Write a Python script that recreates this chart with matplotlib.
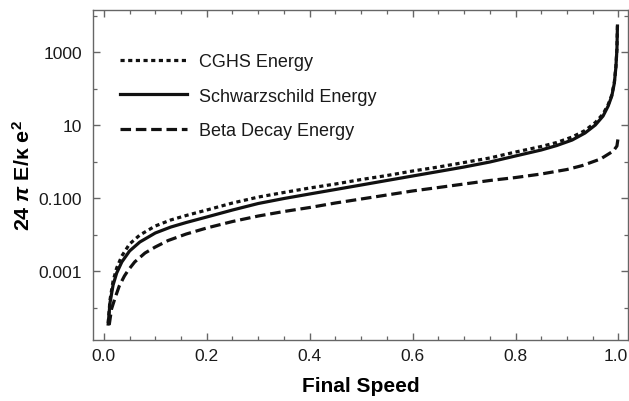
import matplotlib
matplotlib.use('Agg')
import matplotlib.pyplot as plt
from matplotlib.ticker import FixedLocator, FixedFormatter, NullFormatter
from matplotlib.transforms import ScaledTranslation

plt.rcParams['font.family'] = ['Liberation Sans', 'DejaVu Sans']
plt.rcParams['mathtext.fontset'] = 'custom'
plt.rcParams['mathtext.rm'] = 'Liberation Sans:bold'
plt.rcParams['mathtext.it'] = 'Liberation Sans:bold:italic'
plt.rcParams['mathtext.bf'] = 'Liberation Sans:bold'

# ---- data ----
speed_schw = [0.0085, 0.012, 0.018, 0.025, 0.035, 0.05, 0.07, 0.1, 0.13, 0.16,
              0.2, 0.25, 0.3, 0.35, 0.4, 0.45, 0.5, 0.55, 0.6, 0.65,
              0.7, 0.75, 0.8, 0.85, 0.88, 0.91, 0.935, 0.955, 0.97, 0.98,
              0.987, 0.992, 0.995, 0.997, 0.998]
energy_schw = [3.53e-5, 1.33e-4, 4.13e-4, 8.81e-4, 1.77e-3, 3.53e-3, 6.23e-3, 0.0110, 0.0160, 0.0213,
               0.0302, 0.0469, 0.0707, 0.0969, 0.129, 0.171, 0.227, 0.302, 0.401, 0.532,
               0.707, 0.969, 1.42, 2.07, 2.74, 3.88, 6.04, 10.0, 17.6, 33.2,
               62.3, 141, 388, 1208, 5150]

speed_cghs = [0.0085, 0.012, 0.018, 0.025, 0.035, 0.05, 0.07, 0.1, 0.13, 0.16,
              0.2, 0.25, 0.3, 0.35, 0.4, 0.45, 0.5, 0.55, 0.6, 0.65,
              0.7, 0.75, 0.8, 0.85, 0.88, 0.91, 0.935, 0.955, 0.97, 0.98,
              0.987, 0.992, 0.995, 0.997, 0.998]
energy_cghs = [3.76e-5, 1.60e-4, 5.32e-4, 1.21e-3, 2.58e-3, 5.49e-3, 9.69e-3, 0.0171, 0.0250, 0.0332,
               0.0469, 0.0730, 0.106, 0.142, 0.188, 0.242, 0.321, 0.413, 0.549, 0.707,
               0.939, 1.25, 1.82, 2.58, 3.32, 4.69, 7.07, 11.7, 20.0, 36.5,
               66.4, 151, 401, 1250, 5300]

speed_beta = [0.0105, 0.015, 0.0218, 0.03, 0.04, 0.0476, 0.06, 0.08, 0.1, 0.125,
              0.16, 0.2, 0.25, 0.3, 0.35, 0.4, 0.45, 0.5, 0.55, 0.6,
              0.65, 0.7, 0.75, 0.8, 0.85, 0.9, 0.93, 0.965, 0.99, 0.997, 0.9995]
energy_beta = [3.32e-5, 9.10e-5, 1.82e-4, 3.88e-4, 7.29e-4, 1.06e-3, 1.77e-3, 3.11e-3, 4.55e-3, 6.85e-3,
               0.0103, 0.0151, 0.0227, 0.0321, 0.0427, 0.0549, 0.0730, 0.0939, 0.121, 0.156,
               0.194, 0.242, 0.302, 0.364, 0.455, 0.604, 0.777, 1.17, 1.94, 2.66, 4.69]

x_ticks = [0.0, 0.2, 0.4, 0.6, 0.8, 1.0]
x_tick_labels = ['0.0', '0.2', '0.4', '0.6', '0.8', '1.0']
y_ticks = [1e-3, 1e-1, 1e1, 1e3]
y_tick_labels = ['0.001', '0.100', '10', '1000']
y_minor = [1e-4, 1e-2, 1e0, 1e2, 1e4]

# ---- figure ----
W, H = 629, 402
fig = plt.figure(figsize=(W / 100, H / 100), dpi=100)
ax = fig.add_axes([93 / W, 1 - 341 / H, (628 - 93) / W, (341 - 11) / H])
ax.set_yscale('log')

ink = '#111111'
lw = 2.3
ax.plot(speed_cghs, energy_cghs, color=ink, lw=lw, dashes=(1.3, 1.1),
        dash_capstyle='butt', label='CGHS Energy')
ax.plot(speed_schw, energy_schw, color=ink, lw=lw, label='Schwarzschild Energy')
ax.plot(speed_beta, energy_beta, color=ink, lw=lw, dashes=(3.3, 1.5),
        dash_capstyle='butt', label='Beta Decay Energy')

ax.set_xlim(-0.021, 1.0185)
ax.set_ylim(10 ** -4.89, 10 ** 4.151)

spine_c = '#666666'
for s in ax.spines.values():
    s.set_color(spine_c)
    s.set_linewidth(1.0)

ax.xaxis.set_major_locator(FixedLocator(x_ticks))
ax.xaxis.set_major_formatter(FixedFormatter(x_tick_labels))
ax.xaxis.set_minor_locator(FixedLocator([i * 0.05 for i in range(21)]))
ax.yaxis.set_major_locator(FixedLocator(y_ticks))
ax.yaxis.set_major_formatter(FixedFormatter(y_tick_labels))
ax.yaxis.set_minor_locator(FixedLocator(y_minor))
ax.yaxis.set_minor_formatter(NullFormatter())

ax.tick_params(which='both', direction='in', top=True, right=True, color=spine_c,
               labelsize=12.5, labelcolor='#1a1a1a')
ax.tick_params(which='major', length=5, width=1.0)
ax.tick_params(which='minor', length=3, width=0.9)
ax.tick_params(axis='x', which='major', pad=6)
ax.tick_params(axis='y', which='major', pad=8)

ax.set_xlabel('Final Speed', fontsize=15, fontweight='bold', labelpad=9)
ax.set_ylabel(r'24 $\it{\pi}$ E/κ e$^{2}$', fontsize=15.4, fontweight='bold', labelpad=3)

leg = ax.legend(loc='upper left', bbox_to_anchor=(120 / W, 1 - 54 / H),
                bbox_transform=fig.transFigure, frameon=False, fontsize=13,
                handlelength=3.7, handletextpad=0.65, labelspacing=0.97,
                borderpad=0, borderaxespad=0)
for t in leg.get_texts():
    t.set_color('#1a1a1a')

# keep the last x tick label inside the canvas
fig.canvas.draw()
last = ax.get_xticklabels()[-1]
last.set_transform(last.get_transform() + ScaledTranslation(-3 / 100, 0, fig.dpi_scale_trans))

fig.savefig('out.png', dpi=100)
